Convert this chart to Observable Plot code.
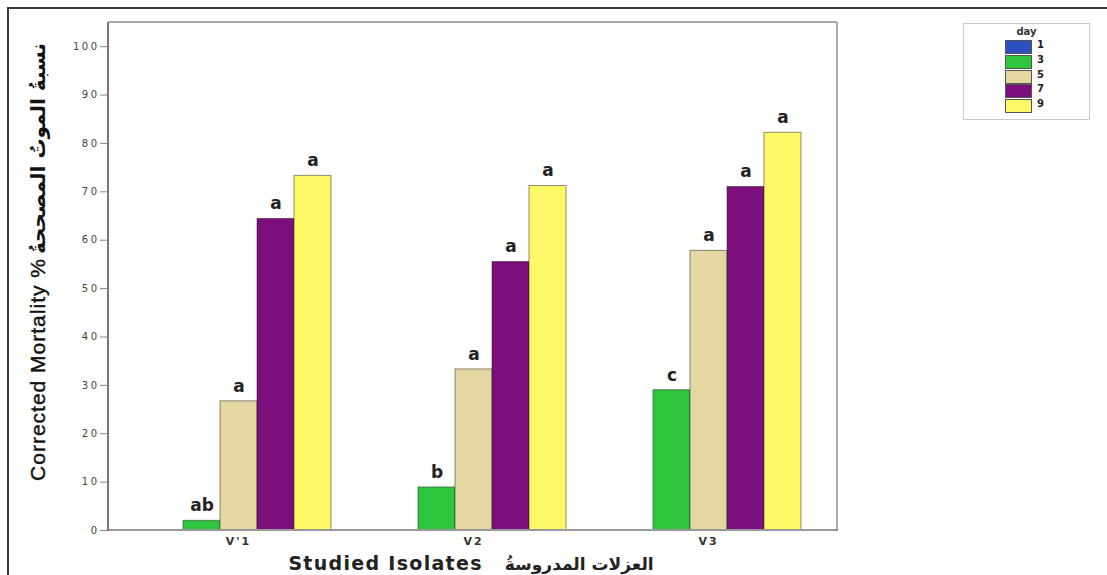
<!DOCTYPE html>
<html>
<head>
<meta charset="utf-8">
<script src="https://cdn.jsdelivr.net/npm/d3@7"></script>
<script src="https://cdn.jsdelivr.net/npm/@observablehq/plot@0.6"></script>
<style>
  html, body { margin: 0; padding: 0; background: #fff; }
  #wrap { position: relative; width: 1107px; height: 575px; overflow: hidden; }
  #border { position: absolute; left: 7px; top: 7px; width: 1110px; height: 580px;
            border-top: 2px solid #3a3a3a; border-left: 2px solid #3a3a3a; pointer-events: none; }
  #chart { position: absolute; left: 0; top: 0; }
  #chart svg [aria-label^="y-axis"] text { font: 10px "DejaVu Sans"; letter-spacing: 2.5px; fill: #444; }
  #chart svg [aria-label^="y-axis"] path, #chart svg [aria-label^="y-axis"] line { stroke: #888; }
  #chart svg [aria-label^="fx-axis"] text { font: bold 11px "DejaVu Sans"; letter-spacing: 2px; fill: #333; }
  #ytitle { position: absolute; left: 38px; top: 262px; transform: translate(-50%, -50%) rotate(-90deg);
            white-space: nowrap; color: #111; }
  #ytitle .en { font: 21px "Liberation Sans", Arial, sans-serif; letter-spacing: 1px; -webkit-text-stroke: 0.4px #111; }
  #ytitle .ar { font: bold 20px "DejaVu Sans", sans-serif; }
  #xtitle { position: absolute; left: 471px; top: 563px; transform: translate(-50%, -50%);
            white-space: nowrap; color: #222; }
  #xtitle .en { font: bold 19px "DejaVu Sans", sans-serif; letter-spacing: 1.3px; }
  #xtitle .ar { font: bold 17px "DejaVu Sans", sans-serif; margin-left: 18px; }
  #legend { position: absolute; left: 963px; top: 23px; width: 125px; height: 95px;
            border: 1px solid #c8c8c8; font-family: "DejaVu Sans", sans-serif; }
  #legend .title { position: absolute; left: 0; width: 100%; top: 2px; text-align: center;
                   font-weight: bold; font-size: 10px; color: #333; }
  #legend .sw { position: absolute; left: 41px; width: 25px; height: 12px; border: 1px solid #555; }
  #legend .lb { position: absolute; left: 73px; font-weight: bold; font-size: 10px; color: #222; }
</style>
</head>
<body>
<div id="wrap">
  <div id="chart"></div>
  <div id="border"></div>
  <div id="ytitle"><span class="en">Corrected Mortality %</span> <span class="ar">نسبةُ الموتُ المصححةُ</span></div>
  <div id="xtitle"><span class="en">Studied Isolates</span> <span class="ar">العزلات المدروسةُ</span></div>
  <div id="legend"></div>
</div>
<script>
// ---- data ----
const isolates = ["V'1", "V2", "V3"];
const days = ["1", "3", "5", "7", "9"];
const day1 = [0, 0, 0];
const day3 = [2.0, 8.9, 29.0];
const day5 = [26.7, 33.3, 57.8];
const day7 = [64.4, 55.5, 71.0];
const day9 = [73.3, 71.2, 82.2];
const letters1 = ["", "", ""];
const letters3 = ["ab", "b", "c"];
const letters5 = ["a", "a", "a"];
const letters7 = ["a", "a", "a"];
const letters9 = ["a", "a", "a"];
const dayColors = ["#2d50c0", "#2ec63f", "#e4d7a1", "#7b0f7b", "#fdf966"];
const yTicks = [0, 10, 20, 30, 40, 50, 60, 70, 80, 90, 100];

const series = [day1, day3, day5, day7, day9];
const letters = [letters1, letters3, letters5, letters7, letters9];
const rows = days.flatMap((d, i) => isolates.map((iso, j) => ({
  isolate: iso, day: d, value: series[i][j], letter: letters[i][j]
})));

const plot = Plot.plot({
  width: 1107,
  height: 575,
  marginLeft: 108,
  marginRight: 270,
  marginTop: 22,
  marginBottom: 45,
  style: { background: "transparent", fontFamily: "DejaVu Sans" },
  facet: { data: rows, x: "isolate" },
  fx: { domain: isolates, paddingInner: 0.2, paddingOuter: 0.15, label: null, tickSize: 0, tickPadding: 7 },
  x: { domain: days, padding: 0, axis: null },
  y: { domain: [0, 105], ticks: yTicks, tickSize: 8, tickPadding: 1, label: null },
  color: { domain: days, range: dayColors },
  marks: [
    Plot.barY(rows, {
      x: "day", y: "value", fill: "day",
      stroke: "#222", strokeOpacity: 0.5, strokeWidth: 1,
      filter: d => d.value > 0
    }),
    Plot.text(rows, {
      x: "day", y: "value", text: "letter", dy: -15,
      fontSize: 17, fontWeight: "bold", fill: "#222", fontFamily: "DejaVu Sans"
    })
  ]
});
document.getElementById("chart").appendChild(plot);

// plot-area frame drawn from the scales' ranges
const fxR = plot.scale("fx").range;
const yR = plot.scale("y").range;
const svg = d3.select(plot);
const x0 = Math.min(...fxR), x1 = Math.max(...fxR);
const yb = Math.max(...yR), yt = Math.min(...yR);

// move the y axis (attached to the first facet) onto the left edge of the plot area
const yAxisNodes = Array.from(plot.querySelectorAll('[aria-label^="y-axis"]'))
  .filter(n => !n.parentNode.closest('[aria-label^="y-axis"]'));
if (yAxisNodes.length) {
  const svgLeft = plot.getBoundingClientRect().left;
  let right = -Infinity;
  yAxisNodes.forEach(n => {
    n.querySelectorAll("line, path").forEach(l => {
      const r = l.getBoundingClientRect();
      right = Math.max(right, r.right - svgLeft);
    });
  });
  if (isFinite(right)) {
    const dx = x0 - right;
    yAxisNodes.forEach(n => {
      const w = document.createElementNS("http://www.w3.org/2000/svg", "g");
      w.setAttribute("transform", `translate(${dx},0)`);
      n.parentNode.insertBefore(w, n);
      w.appendChild(n);
    });
  }
}

const g = svg.append("g").attr("fill", "none");
g.append("line").attr("x1", x0).attr("x2", x1).attr("y1", yt).attr("y2", yt).attr("stroke", "#aaa").attr("stroke-width", 2);
g.append("line").attr("x1", x1).attr("x2", x1).attr("y1", yt).attr("y2", yb).attr("stroke", "#aaa").attr("stroke-width", 2);
g.append("line").attr("x1", x0).attr("x2", x1 + 1).attr("y1", yb).attr("y2", yb).attr("stroke", "#999").attr("stroke-width", 2);
g.append("line").attr("x1", x0).attr("x2", x0).attr("y1", yt).attr("y2", yb + 1).attr("stroke", "#777").attr("stroke-width", 2);

// legend
const legend = document.getElementById("legend");
const t = document.createElement("div");
t.className = "title"; t.textContent = "day";
legend.appendChild(t);
days.forEach((d, i) => {
  const sw = document.createElement("div");
  sw.className = "sw";
  sw.style.top = (16 + i * 14.8) + "px";
  sw.style.background = dayColors[i];
  legend.appendChild(sw);
  const lb = document.createElement("div");
  lb.className = "lb";
  lb.style.top = (15 + i * 14.8) + "px";
  lb.textContent = d;
  legend.appendChild(lb);
});
</script>
</body>
</html>
